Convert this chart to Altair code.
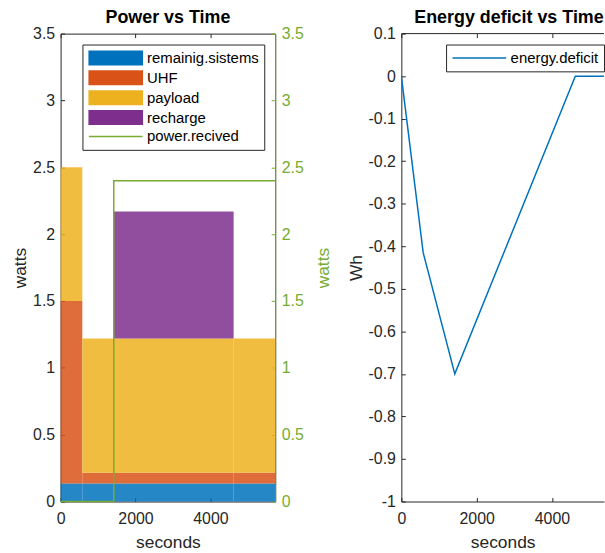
import altair as alt
import pandas as pd

# ---------------- data ----------------
series = ["remainig.sistems", "UHF", "payload", "recharge"]
series_colors = ["#0072BD", "#D95319", "#EDB120", "#7E2F8E"]
line_name = "power.recived"
line_color = "#77AC30"

seg_start = [0, 580, 1420, 4620]
seg_end = [580, 1420, 4620, 5730]
remaining = [0.135, 0.135, 0.135, 0.135]
uhf = [1.365, 0.08, 0.08, 0.08]
payload = [1.0, 1.005, 1.005, 1.005]
recharge = [0.0, 0.0, 0.95, 0.0]

power_t = [0, 1420, 5730]
power_w = [0.0, 2.4, 2.4]

energy_name = "energy.deficit"
energy_color = "#0072BD"
energy_t = [0, 580, 1420, 4620, 5730]
energy_wh = [0.0, -0.415, -0.70, 0.0, 0.0]

x_ticks = [0, 2000, 4000]
watt_ticks = [0, 0.5, 1, 1.5, 2, 2.5, 3, 3.5]
wh_ticks = [-1, -0.9, -0.8, -0.7, -0.6, -0.5, -0.4, -0.3, -0.2, -0.1, 0, 0.1]

X_MAX = 5730          # end of the time axis (left panel)
X_VISIBLE = 5383      # right panel is cut by the figure edge here
WATT_MAX = 3.5
WH_RANGE = [-1, 0.1]

# ---------------- tables ----------------
rows = []
for i in range(len(seg_start)):
    bottom = 0.0
    for name, vals in zip(series, [remaining, uhf, payload, recharge]):
        v = vals[i]
        if v > 0:
            rows.append({"start": seg_start[i], "end": seg_end[i],
                         "bottom": bottom, "top": bottom + v, "series": name})
        bottom += v
bars = pd.DataFrame(rows)
power = pd.DataFrame({"t": power_t, "w": power_w, "series": line_name})
energy = pd.DataFrame({"t": energy_t, "e": energy_wh, "series": energy_name})
legend_domain = series + [line_name]
# carrier rows for legend / tick-only layers: outside the x domain, clipped away
hidden = pd.DataFrame({"t": [-1000] * len(legend_domain), "w": [1] * len(legend_domain),
                       "series": legend_domain})
top_edge = pd.DataFrame({"e": [WH_RANGE[1]]})

FONT = "Liberation Sans"
AX = "#262626"
LABEL_EXPR = "'' + datum.value"
TICK = 4

x_scale = alt.Scale(domain=[0, X_MAX], nice=False, zero=False)
x_scale_r = alt.Scale(domain=[0, X_VISIBLE], nice=False, zero=False)
w_scale = alt.Scale(domain=[0, WATT_MAX], nice=False)
e_scale = alt.Scale(domain=WH_RANGE, nice=False)


def label_axis(values, title, orient, **kw):
    return alt.Axis(values=values, title=title, orient=orient, labelExpr=LABEL_EXPR,
                    ticks=False, labelFlush=False, **kw)


def tick_axis(values, orient, color=AX):
    # inward ticks: axis pulled inside the frame, outward ticks reach back to it
    return alt.Axis(values=values, orient=orient, labels=False, title=None, domain=False,
                    ticks=True, tickSize=TICK, tickColor=color, tickWidth=1, offset=-TICK)


x_lab = label_axis(x_ticks, "seconds", "bottom", domain=False, labelPadding=9,
                   titlePadding=7)

rect_path = "M-3.667,-1H3.667V1H-3.667Z"
line_path = "M-3.6,0H3.6"

fill_scale = alt.Scale(domain=legend_domain, range=series_colors + ["transparent"])
stroke_scale = alt.Scale(domain=legend_domain, range=["transparent"] * 4 + [line_color])
shape_scale = alt.Scale(domain=legend_domain, range=[rect_path] * 4 + [line_path])


def left_legend():
    return alt.Legend(
        title=None, orient="none", legendX=22, legendY=11,
        symbolSize=225, symbolOffset=20, labelFontSize=15, labelOffset=23,
        padding=5, rowPadding=-1, strokeColor=AX, fillColor="white",
        labelColor="#000", labelFont=FONT, symbolOpacity=1, symbolStrokeWidth=1.5,
    )


bar_layer = alt.Chart(bars).mark_rect(opacity=0.85).encode(
    x=alt.X("start:Q", scale=x_scale, axis=x_lab),
    x2="end:Q",
    y=alt.Y("bottom:Q", scale=w_scale,
            axis=label_axis(watt_ticks, "watts", "left", domain=False,
                            labelPadding=6, titlePadding=3)),
    y2="top:Q",
    fill=alt.Fill("series:N", scale=fill_scale, legend=left_legend()),
)

legend_layer = alt.Chart(hidden).mark_point(filled=True, clip=True).encode(
    x=alt.X("t:Q", scale=x_scale, axis=None),
    y=alt.Y("w:Q", scale=w_scale, axis=None),
    fill=alt.Fill("series:N", scale=fill_scale, legend=left_legend()),
    stroke=alt.Stroke("series:N", scale=stroke_scale, legend=left_legend()),
    shape=alt.Shape("series:N", scale=shape_scale, legend=left_legend()),
)

line_layer = alt.Chart(power).mark_line(interpolate="step-after", strokeWidth=1.5).encode(
    x=alt.X("t:Q", scale=x_scale, axis=None),
    y=alt.Y("w:Q", scale=w_scale,
            axis=label_axis(watt_ticks, "watts", "right", domain=True,
                            domainColor=line_color, labelColor=line_color,
                            titleColor=line_color, labelPadding=6, titlePadding=11,
                            titleAngle=270, titleBaseline="top")),
    stroke=alt.Stroke("series:N", scale=stroke_scale, legend=left_legend()),
)

ticks_lb = alt.Chart(hidden).mark_point(clip=True, opacity=0).encode(
    x=alt.X("t:Q", scale=x_scale, axis=tick_axis(x_ticks, "bottom")),
    y=alt.Y("w:Q", scale=w_scale, axis=tick_axis(watt_ticks, "left")),
)
ticks_rt = alt.Chart(hidden).mark_point(clip=True, opacity=0).encode(
    x=alt.X("t:Q", scale=x_scale, axis=tick_axis(x_ticks, "top")),
    y=alt.Y("w:Q", scale=w_scale, axis=tick_axis(watt_ticks, "right", line_color)),
)

left = alt.layer(bar_layer, legend_layer, line_layer, ticks_lb, ticks_rt).resolve_scale(
    y="independent").resolve_axis(x="independent", y="independent").properties(
    width=216, height=471, title=alt.Title("Power vs Time"))

# ---------------- right panel ----------------
energy_line = alt.Chart(energy).mark_line(strokeWidth=1.5, clip=True).encode(
    x=alt.X("t:Q", scale=x_scale_r,
            axis=label_axis(x_ticks, "seconds", "bottom", domain=True, domainColor=AX,
                            labelPadding=9, titlePadding=7)),
    y=alt.Y("e:Q", scale=e_scale,
            axis=label_axis(wh_ticks, "Wh", "left", domain=True, domainColor=AX,
                            labelPadding=6, titlePadding=3)),
    color=alt.Color("series:N", scale=alt.Scale(domain=[energy_name], range=[energy_color]),
                    legend=alt.Legend(title=None, orient="none", legendX=45, legendY=11,
                                      symbolType=line_path, symbolSize=225, symbolOffset=20,
                                      symbolStrokeWidth=1.5, labelFontSize=15,
                                      labelOffset=23, padding=5, strokeColor=AX,
                                      fillColor="white", labelColor="#000",
                                      labelFont=FONT)),
)

top_rule = alt.Chart(top_edge).mark_rule(color=AX, strokeWidth=1).encode(
    y=alt.Y("e:Q", scale=e_scale, axis=None))

r_ticks_lb = alt.Chart(hidden).mark_point(clip=True, opacity=0).encode(
    x=alt.X("t:Q", scale=x_scale_r, axis=tick_axis(x_ticks, "bottom")),
    y=alt.Y("w:Q", scale=e_scale, axis=tick_axis(wh_ticks, "left")),
)
r_ticks_t = alt.Chart(hidden).mark_point(clip=True, opacity=0).encode(
    x=alt.X("t:Q", scale=x_scale_r, axis=tick_axis(x_ticks, "top")),
    y=alt.Y("w:Q", scale=e_scale, axis=None),
)

right = alt.layer(energy_line, top_rule, r_ticks_lb, r_ticks_t).resolve_axis(
    x="independent", y="independent").properties(
    width=204, height=471, view=alt.ViewBackground(stroke="transparent"),
    title=alt.Title("Energy deficit vs Time", anchor="start", frame="group", dx=13))

chart = alt.hconcat(left, right, spacing=13).resolve_scale(color="independent").properties(
    padding={"left": 11, "top": 6, "right": 0, "bottom": 0}
).configure(font=FONT).configure_view(
    stroke=AX, strokeWidth=1
).configure_axis(
    labelFont=FONT, titleFont=FONT, labelFontSize=16, titleFontSize=17.5,
    titleFontWeight="normal", labelColor=AX, titleColor=AX, grid=False,
).configure_title(
    font=FONT, fontSize=18, fontWeight="bold", color="#000", offset=-1, anchor="middle"
)

chart.save("out.html", embed_options={"renderer": "svg", "actions": False})
